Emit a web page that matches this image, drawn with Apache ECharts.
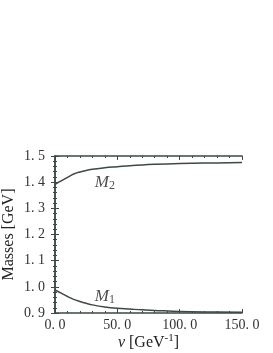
<!DOCTYPE html>
<html><head><meta charset="utf-8">
<script src="https://cdn.jsdelivr.net/npm/echarts@6/dist/echarts.min.js"></script>
<style>html,body{margin:0;padding:0;background:#fff}#c{width:273px;height:353px}</style>
</head><body><div id="c"></div>
<script>
const v = [0,5,10,15,20,25,30,40,50,60,70,80,100,120,150];
const M2 = [1.392,1.405,1.418,1.431,1.439,1.445,1.449,1.455,1.459,1.463,1.466,1.468,1.471,1.473,1.475];
const M1 = [0.988,0.976,0.963,0.952,0.944,0.937,0.931,0.923,0.918,0.915,0.912,0.910,0.906,0.904,0.903];
const xTicks = [0,50,100,150];
const yTicks = [0.9,1.0,1.1,1.2,1.3,1.4,1.5];
const labelM2 = {v:40, m:1.40};
const labelM1 = {v:40, m:0.962};

const C = '#3c4a42';
const serif = '"Liberation Serif","DejaVu Serif",serif';
const fmt = x => x.toFixed(1).replace('.', '. ');
const axisCommon = {
  axisLine:{show:true,lineStyle:{color:C,width:1.5}},
  axisTick:{show:true,inside:true,length:4,lineStyle:{color:C}},
  minorTick:{show:true,splitNumber:5,length:2,lineStyle:{color:C}},
  splitLine:{show:false}
};
const chart = echarts.init(document.getElementById('c'));
chart.setOption({
  animation:false,
  grid:{left:55,right:31,top:156,bottom:40,outerBoundsMode:'none',containLabel:false},
  xAxis:[
    Object.assign({type:'value',min:xTicks[0],max:xTicks[xTicks.length-1],interval:50,position:'bottom',
      axisLabel:{color:'#333',fontFamily:serif,fontSize:14,margin:5,formatter:fmt},
      name:'{i|v} [GeV{s|-1}]',nameLocation:'middle',nameGap:20,nameMoveOverlap:false,
      nameTextStyle:{color:'#222',fontFamily:serif,fontSize:16,
        rich:{i:{fontStyle:'italic',fontFamily:serif,fontSize:16,color:'#222'},s:{fontSize:11,verticalAlign:'top',padding:[0,0,8,0],fontFamily:serif,color:'#222'}}}
    },axisCommon),
    Object.assign({type:'value',min:0,max:150,interval:50,position:'top',axisLabel:{show:false}},axisCommon)
  ],
  yAxis:[
    Object.assign({type:'value',min:0.9,max:1.5,interval:0.1,position:'left',
      axisLabel:{color:'#333',fontFamily:serif,fontSize:14,margin:10,formatter:fmt},
      name:'Masses [GeV]',nameLocation:'middle',nameGap:38,nameRotate:90,nameMoveOverlap:false,
      nameTextStyle:{color:'#222',fontFamily:serif,fontSize:16}
    },axisCommon),
    Object.assign({type:'value',min:0.9,max:1.5,interval:0.1,position:'right',axisLabel:{show:false}},axisCommon)
  ],
  series:[
    {type:'line',data:v.map((x,i)=>[x,M2[i]]),smooth:0.4,showSymbol:false,lineStyle:{color:C,width:1.5}},
    {type:'line',data:v.map((x,i)=>[x,M1[i]]),smooth:0.4,showSymbol:false,lineStyle:{color:C,width:1.5}},
    {type:'scatter',symbolSize:0,silent:true,
      data:[
        {value:[labelM2.v,labelM2.m],label:{formatter:'{m|M}{s|2}'}},
        {value:[labelM1.v,labelM1.m],label:{formatter:'{m|M}{s|1}'}}
      ],
      label:{show:true,position:'inside',
        rich:{m:{fontFamily:serif,fontStyle:'italic',fontSize:17,color:'#222'},
              s:{fontFamily:serif,fontSize:12,color:'#222',verticalAlign:'bottom',padding:[7,0,0,0]}}}
    }
  ]
});
</script></body></html>
